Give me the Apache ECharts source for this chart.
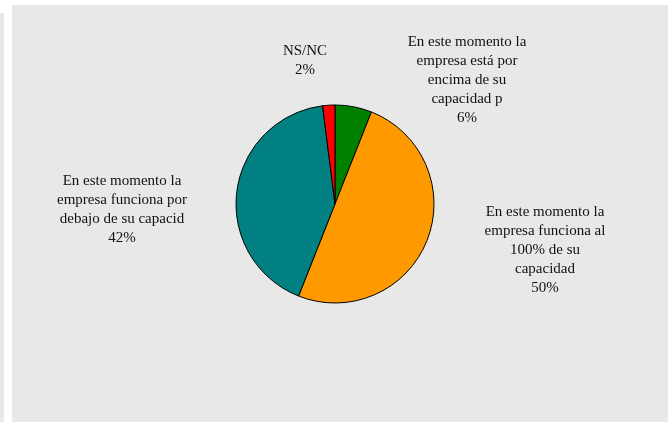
<!DOCTYPE html>
<html>
<head>
<meta charset="utf-8">
<script src="https://cdn.jsdelivr.net/npm/echarts@6/dist/echarts.min.js"></script>
<style>
  html, body { margin: 0; padding: 0; background: #ffffff; }
  #wrap { position: relative; width: 668px; height: 422px; overflow: hidden; background: #ffffff; }
  #strip { position: absolute; left: 0; top: 13px; width: 4px; height: 409px; background: #e8e8e8; }
  #panel { position: absolute; left: 12px; top: 5px; width: 656px; height: 417px; background: #e8e8e8; }
  #chart { position: absolute; left: 0; top: 0; width: 668px; height: 422px; }
</style>
</head>
<body>
<div id="wrap">
  <div id="strip"></div>
  <div id="panel"></div>
  <div id="chart"></div>
</div>
<script>
// Categories (line breaks as shown in the slice labels)
const categories = [
  'En este momento la\nempresa está por\nencima de su\ncapacidad p',
  'En este momento la\nempresa funciona al\n100% de su\ncapacidad',
  'En este momento la\nempresa funciona por\ndebajo de su capacid',
  'NS/NC'
];
// Share of responses, percent
const values = [6, 50, 42, 2];
const colors = ['#008000', '#FF9900', '#008080', '#FF0000'];

// Label anchor points (centre of each text block)
const labelSpots = [
  { x: 467, y: 80 },
  { x: 545, y: 250 },
  { x: 122, y: 210 },
  { x: 305, y: 61 }
];

const chart = echarts.init(document.getElementById('chart'), null, { renderer: 'canvas' });
chart.setOption({
  backgroundColor: 'transparent',
  animation: false,
  series: [{
    type: 'pie',
    center: [335, 204],
    radius: 99,
    startAngle: 90,
    clockwise: true,
    avoidLabelOverlap: false,
    data: categories.map((c, i) => ({
      name: c,
      value: values[i],
      itemStyle: { color: colors[i] }
    })),
    itemStyle: { borderColor: '#000000', borderWidth: 1 },
    label: {
      show: true,
      position: 'outside',
      formatter: '{b}\n{d}%',
      fontFamily: '"Liberation Serif", "Times New Roman", serif',
      fontSize: 15,
      lineHeight: 19,
      color: '#111111',
      align: 'center'
    },
    labelLine: { show: false },
    labelLayout: function (p) {
      const s = labelSpots[p.dataIndex];
      return { x: s.x, y: s.y, align: 'center', verticalAlign: 'middle' };
    },
    emphasis: { disabled: true }
  }]
});
</script>
</body>
</html>
